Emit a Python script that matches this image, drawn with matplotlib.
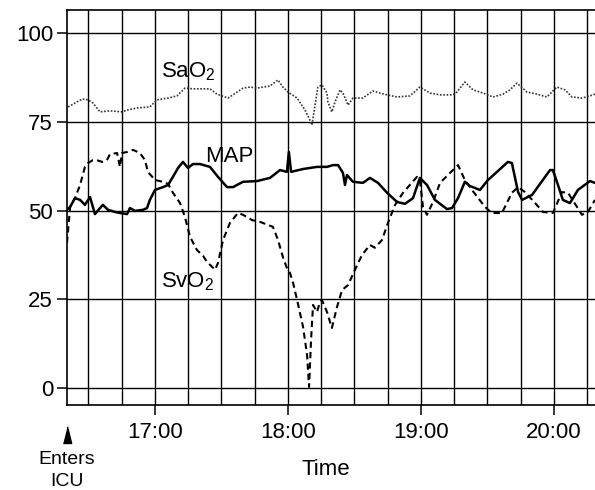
import matplotlib.pyplot as plt

plt.rcParams['font.family'] = ['Liberation Sans', 'DejaVu Sans']
plt.rcParams['mathtext.fontset'] = 'custom'
plt.rcParams['mathtext.rm'] = 'Liberation Sans'

# minutes after 16:00
sao2_t = [20.8, 23.9, 27.1, 29.8, 32.0, 35.2, 39.7, 45.1, 47.4, 51.9, 57.7, 60.9, 65.9, 69.9,
          73.5, 77.1, 84.8, 88.0, 92.9, 95.2, 99.7, 102.9, 106.0, 111.9, 115.5, 117.7, 120.0,
          124.1, 127.7, 129.9, 130.8, 132.2, 133.5, 135.3, 137.6, 138.0, 139.8, 141.2, 143.5,
          144.8, 147.1, 149.3, 153.8, 158.3, 161.5, 164.7, 169.2, 175.0, 179.5, 184.1, 188.6,
          194.4, 196.2, 199.8, 203.5, 208.0, 212.5, 217.0, 220.1, 223.3, 227.8, 232.3, 236.8,
          241.3, 245.0, 248.1, 252.6, 256.2, 258.5]
sao2_v = [79.2, 80.3, 81.4, 81.2, 80.3, 77.8, 78.1, 77.8, 78.3, 78.9, 79.2, 81.2, 81.7, 82.3,
          84.5, 84.3, 84.3, 82.8, 81.7, 82.6, 84.5, 84.8, 84.5, 85.1, 86.8, 84.8, 83.4,
          81.7, 78.3, 75.5, 74.1, 79.7, 84.8, 85.4, 83.1, 80.6, 77.8, 80.6, 84.0,
          83.1, 79.7, 81.7, 81.7, 83.7, 83.1, 82.6, 82.0, 82.3, 84.8, 83.1, 82.6,
          82.6, 83.4, 86.2, 84.0, 83.1, 82.0, 82.8, 84.0, 85.9, 83.4, 82.8, 82.0,
          84.8, 84.0, 82.0, 81.7, 82.3, 82.8]

map_t = [20.3, 21.7, 23.9, 26.2, 28.4, 30.7, 32.9, 35.2, 36.5, 38.8, 42.0, 44.2, 47.4, 48.7,
         51.0, 54.6, 56.4, 57.7, 60.0, 63.6, 65.9, 68.1, 70.4, 72.6, 74.9, 77.1, 80.3, 84.8,
         88.4, 92.5, 95.2, 99.7, 106.0, 111.9, 116.4, 119.5, 120.4, 121.4, 126.8, 133.1,
         137.6, 140.3, 142.6, 144.8, 145.7, 146.6, 149.3, 153.8, 157.0, 160.6, 164.7, 169.2,
         172.8, 176.4, 179.5, 182.7, 186.3, 191.7, 194.0, 196.7, 199.8, 202.1, 206.6, 210.2,
         214.3, 219.2, 221.0, 223.8, 225.6, 230.1, 238.2, 239.5, 241.8, 244.0, 247.2, 250.8,
         256.2, 258.5]
map_v = [50.2, 51.0, 53.5, 53.0, 51.6, 53.8, 49.0, 50.7, 51.6, 50.2, 49.6, 49.3, 49.0, 50.7,
         49.9, 50.2, 50.7, 53.0, 55.8, 56.6, 57.2, 59.5, 62.0, 63.7, 62.0, 63.1, 63.1, 62.3,
         59.5, 56.6, 56.6, 58.1, 58.3, 59.2, 61.4, 60.9, 66.5, 60.9, 61.7, 62.3,
         62.3, 62.8, 62.8, 60.6, 57.2, 60.0, 58.1, 57.8, 59.2, 57.8, 55.0, 52.4,
         51.9, 53.5, 59.2, 57.2, 53.0, 50.4, 50.7, 53.5, 58.1, 56.9, 55.8, 58.6,
         60.9, 63.7, 63.4, 55.2, 53.0, 54.4, 61.4, 61.4, 57.2, 53.0, 52.1, 55.8,
         58.3, 57.8]

svo2_t = [20.3, 21.7, 23.9, 26.2, 28.4, 29.8, 32.0, 33.8, 36.1, 38.3, 39.7, 42.9, 44.2, 45.1,
          47.4, 50.1, 53.2, 55.5, 56.8, 60.0, 63.6, 65.9, 68.1, 71.3, 73.5, 75.8, 78.9, 81.7,
          83.5, 87.1, 88.4, 90.7, 93.8, 97.4, 99.7, 103.8, 107.4, 113.2, 115.5, 117.7, 119.5,
          120.9, 122.3, 124.1, 126.8, 128.6, 129.5, 130.4, 131.3, 133.1, 134.4, 135.3, 137.6,
          139.8, 142.1, 144.4, 147.1, 150.2, 153.4, 157.0, 159.2, 162.4, 165.1, 168.3, 171.9,
          178.2, 179.5, 180.9, 182.7, 185.4, 188.6, 193.1, 196.7, 199.8, 203.0, 208.9, 212.0,
          216.5, 221.0, 223.8, 226.9, 231.5, 235.0, 239.5, 243.6, 246.3, 250.4, 252.6, 255.3,
          258.5]
svo2_v = [40.9, 51.0, 53.5, 57.2, 62.3, 63.4, 64.2, 64.2, 63.7, 64.2, 65.9, 66.2, 62.3, 66.2,
          66.5, 67.1, 66.2, 64.2, 60.9, 58.6, 58.1, 57.5, 55.0, 52.1, 48.2, 42.6, 38.9, 37.2,
          35.5, 33.3, 35.2, 41.7, 46.5, 49.3, 48.8, 47.3, 46.8, 45.4, 41.7, 36.9, 33.8,
          32.4, 29.6, 24.8, 17.2, 9.3, 0.3, 13.5, 23.4, 21.4, 24.2, 24.8, 21.4,
          16.9, 22.8, 27.6, 29.0, 33.3, 37.5, 40.3, 39.5, 41.7, 46.5, 51.6, 55.0,
          59.5, 58.6, 51.0, 48.8, 52.4, 57.8, 60.6, 62.8, 58.6, 55.8, 51.0, 49.3,
          49.3, 55.0, 56.6, 55.2, 52.1, 49.6, 49.3, 55.2, 55.0, 51.0, 48.8, 49.6,
          53.0]

hour_ticks = [60, 120, 180, 240]
hour_labels = ['17:00', '18:00', '19:00', '20:00']
grid_quarters = [30, 45, 75, 90, 105, 135, 150, 165, 195, 210, 225, 255]
y_ticks = [0, 25, 50, 75, 100]

fig = plt.figure(figsize=(5.95, 4.9), dpi=100)
ax = fig.add_axes([0.1126, 0.1735, 0.8874, 0.806])

ax.plot(sao2_t, sao2_v, color='#333333', linestyle=(0, (1, 1)), linewidth=1.2)
ax.plot(map_t, map_v, color='black', linewidth=1.8)
ax.plot(svo2_t, svo2_v, color='black', linestyle=(0, (3, 2)), linewidth=1.5)

ax.set_xlim(20.3, 258.5)
ax.set_ylim(-4.8, 106.5)

ax.set_xticks(hour_ticks)
ax.set_xticklabels(hour_labels)
ax.set_xticks(grid_quarters, minor=True)
ax.set_yticks(y_ticks)
ax.tick_params(axis='both', which='major', direction='out', length=7, width=1.1,
               labelsize=16, color='black')
ax.tick_params(axis='x', which='major', pad=5)
ax.tick_params(axis='y', which='major', pad=3)
ax.tick_params(axis='x', which='minor', length=0)
ax.grid(True, which='both', axis='x', color='black', linewidth=1.0)
ax.grid(True, which='major', axis='y', color='black', linewidth=1.0)
for side in ['left', 'top', 'bottom']:
    ax.spines[side].set_linewidth(1.2)
ax.spines['right'].set_visible(False)

ax.text(62.7, 87.4, r'$\mathregular{SaO_2}$', fontsize=16, ha='left', va='baseline')
ax.text(82.6, 63.7, 'MAP', fontsize=16, ha='left', va='baseline')
ax.text(62.7, 28.2, r'$\mathregular{SvO_2}$', fontsize=16, ha='left', va='baseline')

# "Enters ICU" marker below the axis
ax.plot([20.3], [-15.5], marker=[(-3, 0), (3, 0), (0, 12)], markersize=24,
        color='black', clip_on=False)
ax.text(20.3, -20.3, 'Enters', fontsize=14, ha='center', va='center', clip_on=False)
ax.text(20.3, -26.5, 'ICU', fontsize=14, ha='center', va='center', clip_on=False)
ax.text(137.1, -23.1, 'Time', fontsize=16, ha='center', va='center', clip_on=False)

fig.savefig('out.png', dpi=100)
